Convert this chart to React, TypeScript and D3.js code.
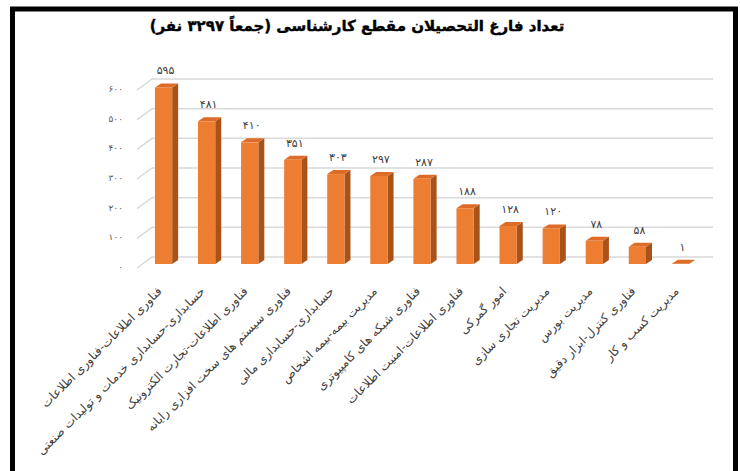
import React from 'react';
import * as d3 from 'd3';

const title = 'تعداد فارغ التحصیلان مقطع کارشناسی (جمعاً ۳۲۹۷ نفر)';

const categories = [
  'فناوری اطلاعات-فناوری اطلاعات',
  'حسابداری-حسابداری خدمات و تولیدات صنعتی',
  'فناوری اطلاعات-تجارت الکترونیک',
  'فناوری سیستم های سخت افزاری رایانه',
  'حسابداری-حسابداری مالی',
  'مدیریت بیمه-بیمه اشخاص',
  'فناوری شبکه های  کامپیوتری',
  'فناوری اطلاعات-امنیت اطلاعات',
  'امور گمرکی',
  'مدیریت تجاری سازی',
  'مدیریت بورس',
  'فناوری کنترل-ابزار دقیق',
  'مدیریت کسب و کار',
];

const values = [595, 481, 410, 351, 303, 297, 287, 188, 128, 120, 78, 58, 1];

const yTicks = [0, 100, 200, 300, 400, 500, 600];

const W = 740;
const H = 471;

// persian digits
const faDigits = '۰۱۲۳۴۵۶۷۸۹';
const fa = (n: number) => String(n).replace(/\d/g, d => faDigits[+d]);

export default function App() {
  const x = d3.scaleBand<string>()
    .domain(categories)
    .range([142, 702])
    .paddingInner(0.6)
    .paddingOuter(0.3);

  const y = d3.scaleLinear().domain([0, 600]).range([264, 86]);

  const dx = 6, dy = -4; // 3d depth
  const bw = x.bandwidth();

  return (
    <svg width={W} height={H} style={{position: 'absolute', left: 0, top: 0, display: 'block'}}
         fontFamily="'DejaVu Sans', sans-serif">
      <rect x={0} y={0} width={W} height={H} fill="#fff" />
      <rect x={12.5} y={9} width={723} height={520} fill="none" stroke="#000" strokeWidth={5} />

      <text x={357} y={31} textAnchor="middle" direction="rtl" fontSize={15} fontWeight="bold"
            fill="#000" stroke="#000" strokeWidth={0.4}>
        {title}
      </text>

      {/* gridlines with floor diagonal */}
      {yTicks.map(t => (
        <g key={t}>
          <polyline
            points={`137,${y(t) + 4} 152,${y(t) - 7} 713,${y(t) - 7}`}
            fill="none" stroke="#d9d9d9" strokeWidth={1.5} />
          <text x={123} y={y(t) + 3} dy="0.35em" textAnchor="end" fontSize={9}
                letterSpacing={2} fill="#595959">{fa(t)}</text>
        </g>
      ))}

      {/* bars */}
      {values.map((v, i) => {
        const x0 = x(categories[i]) as number;
        const x1 = x0 + bw;
        const yt = y(v);
        const yb = y(0);
        return (
          <g key={i}>
            <polygon points={`${x1},${yt} ${x1 + dx},${yt + dy} ${x1 + dx},${yb + dy} ${x1},${yb}`}
                     fill="#a9531b" />
            <polygon points={`${x0},${yt} ${x0 + dx},${yt + dy} ${x1 + dx},${yt + dy} ${x1},${yt}`}
                     fill="#dc6c28" />
            <rect x={x0} y={yt} width={bw} height={yb - yt} fill="#ed7d31" />
            <text x={x0 + bw / 2 + 2} y={yt - 13} textAnchor="middle" fontSize={11}
                  letterSpacing={1} fill="#404040">{fa(v)}</text>
          </g>
        );
      })}

      {/* category labels */}
      {categories.map((c, i) => {
        const cx = (x(c) as number) + bw / 2 - 4;
        return (
          <text key={c} transform={`translate(${cx},289) rotate(-45)`} textAnchor="end"
                dy="0.35em" fontSize={12} fill="#404040">{c}</text>
        );
      })}
    </svg>
  );
}
